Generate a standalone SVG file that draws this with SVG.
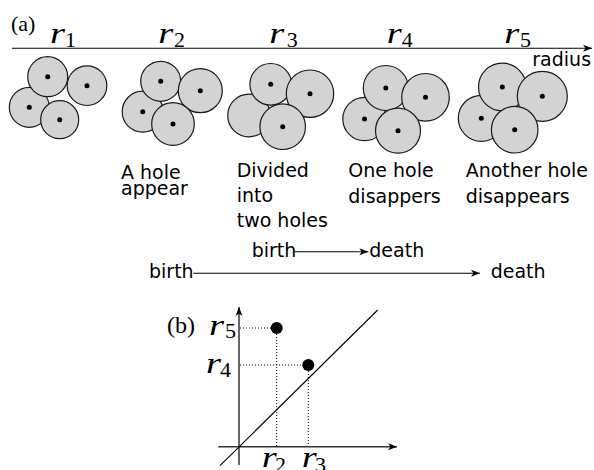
<svg xmlns="http://www.w3.org/2000/svg" width="594" height="470" viewBox="0 0 594 470">
<style>
  .c { fill: #d3d3d3; stroke: #1a1a1a; stroke-width: 1.2; }
  .d { fill: #000; }
  .t { font-family: "DejaVu Sans", sans-serif; font-size: 19px; fill: #000; }
  .mi { font-family: "Liberation Serif", serif; font-style: italic; font-size: 29px; fill: #000; }
  .sub { font-family: "Liberation Serif", serif; font-size: 22px; fill: #000; }
  .lbl { font-family: "Liberation Serif", serif; fill: #000; }
  .ln { stroke: #000; stroke-width: 1.1; fill: none; }
  .ax { stroke: #333; stroke-width: 1.5; fill: none; }
  .dot { stroke: #000; stroke-width: 1; stroke-dasharray: 1 2; fill: none; }
</style>
<defs>
  <marker id="ah" markerWidth="10" markerHeight="8" refX="9" refY="4" orient="auto" markerUnits="userSpaceOnUse">
    <path d="M0,0.5 L9,4 L0,7.5 L2.5,4 Z" fill="#000"/>
  </marker>
</defs>

<text class="lbl" x="11" y="30.5" font-size="22">(a)</text>

<g id="r-labels-top">
  <text class="mi" x="50" y="42.7" textLength="15" lengthAdjust="spacingAndGlyphs">r</text><text class="sub" x="65" y="46.7">1</text>
  <text class="mi" x="158.3" y="42.7" textLength="15" lengthAdjust="spacingAndGlyphs">r</text><text class="sub" x="174" y="46.7">2</text>
  <text class="mi" x="269.3" y="42.7" textLength="15" lengthAdjust="spacingAndGlyphs">r</text><text class="sub" x="286.7" y="46.7">3</text>
  <text class="mi" x="386.7" y="42.7" textLength="15" lengthAdjust="spacingAndGlyphs">r</text><text class="sub" x="401.7" y="46.7">4</text>
  <text class="mi" x="504.3" y="42.7" textLength="15" lengthAdjust="spacingAndGlyphs">r</text><text class="sub" x="520" y="46.7">5</text>
</g>

<g id="connectors">
  <line class="ln" x1="12" y1="48.3" x2="592" y2="48.3" marker-end="url(#ah)"/>
  <line class="ln" x1="294.3" y1="251.7" x2="368.3" y2="251.7" stroke-width="1" marker-end="url(#ah)"/>
  <line class="ln" x1="193.3" y1="273.3" x2="480" y2="273.3" stroke-width="1" marker-end="url(#ah)"/>
</g>

<text class="t" x="532.3" y="65.7" font-size="18">radius</text>

<g id="cluster1">
  <circle class="c" cx="29.3" cy="107.3" r="20"/>
  <circle class="c" cx="47.7" cy="76.7" r="20"/>
  <circle class="c" cx="87" cy="85.7" r="19.8"/>
  <circle class="c" cx="59.7" cy="119.7" r="19"/>
  <circle class="d" cx="29.3" cy="107.3" r="2.5"/>
  <circle class="d" cx="47.7" cy="76.7" r="2.5"/>
  <circle class="d" cx="87" cy="85.7" r="2.5"/>
  <circle class="d" cx="59.7" cy="119.7" r="2.5"/>
</g>

<g id="cluster2">
  <circle class="c" cx="142.7" cy="111.7" r="20.5"/>
  <circle class="c" cx="160.7" cy="81.3" r="20"/>
  <circle class="c" cx="200.3" cy="90.7" r="22"/>
  <circle class="c" cx="173" cy="124" r="21.3"/>
  <circle class="d" cx="142.7" cy="111.7" r="2.5"/>
  <circle class="d" cx="160.7" cy="81.3" r="2.5"/>
  <circle class="d" cx="200.3" cy="90.7" r="2.5"/>
  <circle class="d" cx="173" cy="124" r="2.5"/>
</g>

<g id="cluster3">
  <circle class="c" cx="249" cy="115.5" r="21.3"/>
  <circle class="c" cx="270.7" cy="84.3" r="20.8"/>
  <circle class="c" cx="310" cy="93.7" r="23.7"/>
  <circle class="c" cx="282.7" cy="126.7" r="22.8"/>
  <circle class="d" cx="270.7" cy="84.3" r="2.5"/>
  <circle class="d" cx="310" cy="93.7" r="2.5"/>
  <circle class="d" cx="282.7" cy="126.7" r="2.5"/>
</g>

<g id="cluster4">
  <circle class="c" cx="364.5" cy="119" r="21.7"/>
  <circle class="c" cx="385.8" cy="88" r="22.5"/>
  <circle class="c" cx="425.5" cy="97.3" r="23.8"/>
  <circle class="c" cx="398" cy="130.7" r="22.5"/>
  <circle class="d" cx="364.5" cy="119" r="2.5"/>
  <circle class="d" cx="385.8" cy="88" r="2.5"/>
  <circle class="d" cx="425.5" cy="97.3" r="2.5"/>
  <circle class="d" cx="398" cy="130.7" r="2.5"/>
</g>

<g id="cluster5">
  <circle class="c" cx="481.3" cy="118.3" r="23"/>
  <circle class="c" cx="502.3" cy="87" r="23.8"/>
  <circle class="c" cx="542.3" cy="96.3" r="25"/>
  <circle class="c" cx="514.7" cy="129.7" r="23.3"/>
  <circle class="d" cx="481.3" cy="118.3" r="2.5"/>
  <circle class="d" cx="502.3" cy="87" r="2.5"/>
  <circle class="d" cx="542.3" cy="96.3" r="2.5"/>
  <circle class="d" cx="514.7" cy="129.7" r="2.5"/>
</g>

<g id="captions">
  <text class="t" x="121" y="179.3">A hole</text>
  <text class="t" x="121" y="195">appear</text>
  <text class="t" x="236.7" y="176.5">Divided</text>
  <text class="t" x="236.7" y="201.7">into</text>
  <text class="t" x="236.7" y="227.3">two holes</text>
  <text class="t" x="348.3" y="176.5">One hole</text>
  <text class="t" x="348.3" y="203.3">disappers</text>
  <text class="t" x="465.7" y="176.5">Another hole</text>
  <text class="t" x="465.7" y="203.3">disappears</text>
</g>

<g id="bars">
  <text class="t" x="251.7" y="256.7">birth</text>
  <text class="t" x="369.3" y="256.7">death</text>
  <text class="t" x="149" y="278.3">birth</text>
  <text class="t" x="490.7" y="278.3">death</text>
</g>

<g id="diagram-b">
  <text class="lbl" x="167" y="333" font-size="24">(b)</text>
  <line class="ax" x1="239" y1="465" x2="239" y2="307" marker-end="url(#ah)"/>
  <line class="ax" x1="218.3" y1="446.7" x2="397" y2="446.7" marker-end="url(#ah)"/>
  <line class="ln" x1="220" y1="465.7" x2="377.7" y2="310"/>
  <line class="dot" x1="240" y1="328" x2="276.7" y2="328"/>
  <line class="dot" x1="276.7" y1="328" x2="276.7" y2="446"/>
  <line class="dot" x1="240" y1="365" x2="308.3" y2="365"/>
  <line class="dot" x1="308.3" y1="365" x2="308.3" y2="446"/>
  <circle class="d" cx="276.7" cy="328" r="6"/>
  <circle class="d" cx="308.3" cy="365" r="6"/>
  <text class="mi" x="209" y="335" textLength="15" lengthAdjust="spacingAndGlyphs">r</text><text class="sub" x="225" y="338">5</text>
  <text class="mi" x="206" y="373" textLength="15" lengthAdjust="spacingAndGlyphs">r</text><text class="sub" x="220" y="377">4</text>
  <text class="mi" x="261.7" y="466.7" textLength="15" lengthAdjust="spacingAndGlyphs">r</text><text class="sub" x="275" y="472">2</text>
  <text class="mi" x="301.7" y="466.7" textLength="15" lengthAdjust="spacingAndGlyphs">r</text><text class="sub" x="315" y="472">3</text>
</g>
</svg>
